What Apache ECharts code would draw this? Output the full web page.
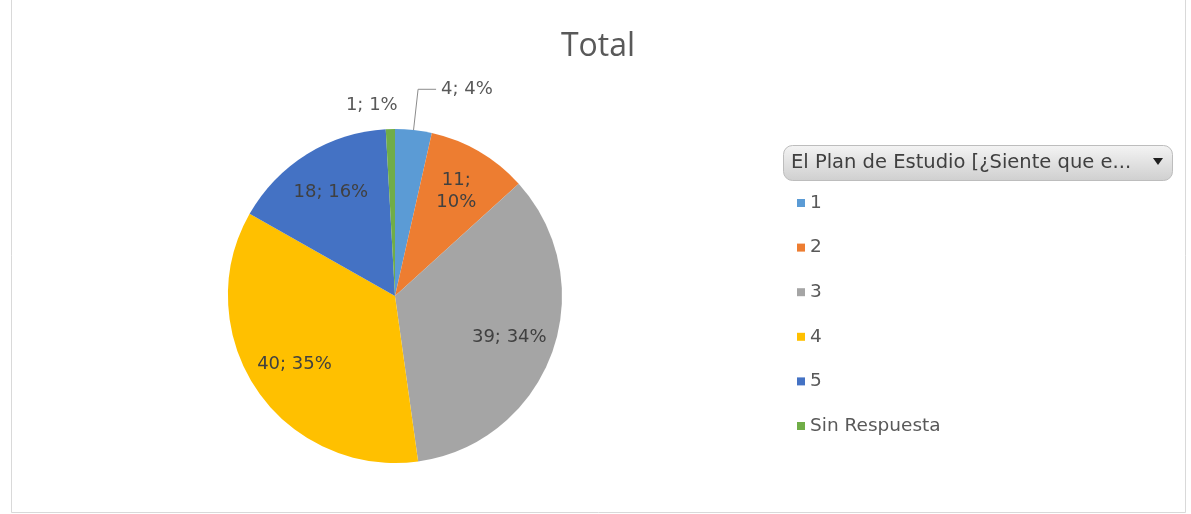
<!DOCTYPE html>
<html>
<head>
<meta charset="utf-8">
<script src="https://cdn.jsdelivr.net/npm/echarts@6/dist/echarts.min.js"></script>
<style>
html,body{margin:0;padding:0;background:#fff;}
#chart{width:1191px;height:514px;}
</style>
</head>
<body>
<div id="chart"></div>
<script>
const categories = ['1', '2', '3', '4', '5', 'Sin Respuesta'];
const values = [4, 11, 39, 40, 18, 1];
const colors = ['#5B9BD5', '#ED7D31', '#A5A5A5', '#FFC000', '#4472C4', '#70AD47'];
const titleText = 'Total';
const legendHeader = 'El Plan de Estudio [¿Siente que e...';
// which labels sit outside the pie
const outsideLabels = ['1', 'Sin Respuesta'];

const FONT = '"DejaVu Sans", sans-serif';
const TITLE_FONT = '"Open Sans", "Noto Sans", sans-serif';
const chart = echarts.init(document.getElementById('chart'), null, {renderer: 'canvas'});

const cx = 395, cy = 296, R = 167;

const mainData = categories.map((c, i) => {
  const item = {name: c, value: values[i], itemStyle: {color: colors[i]}};
  if (c === '1') {
    item.label = {show: true, position: 'outside', formatter: '{c}; {d}%'};
    item.labelLine = {show: true, length: 41, length2: 18, lineStyle: {color: '#8c8c8c', width: 1}};
  } else if (c === 'Sin Respuesta') {
    item.label = {show: true, position: 'outside', formatter: '{c}; {d}%', distanceToLabelLine: -8};
    item.labelLine = {show: false, length: 24, length2: 0};
  } else {
    item.label = {show: false};
  }
  return item;
});

const overlayData = categories.map((c, i) => {
  const item = {name: c, value: values[i], itemStyle: {color: 'rgba(0,0,0,0)'}};
  if (outsideLabels.includes(c)) {
    item.label = {show: false};
  } else if (c === '2') {
    item.label = {show: true, formatter: '{c};\n{d}%'};
  }
  return item;
});

const option = {
  animation: false,
  backgroundColor: '#fff',
  title: {
    text: titleText,
    left: 593,
    textAlign: 'center',
    top: 26,
    textStyle: {fontFamily: TITLE_FONT, fontSize: 32, fontWeight: 'normal', color: '#595959'}
  },
  legend: {
    orient: 'vertical',
    left: 792,
    top: 188,
    data: categories,
    icon: 'rect',
    itemWidth: 8,
    itemHeight: 8,
    itemGap: 24.6,
    selectedMode: false,
    textStyle: {fontFamily: FONT, fontSize: 18.5, color: '#595959', lineHeight: 20}
  },
  graphic: [
    {
      type: 'rect',
      shape: {x: 11.5, y: -5, width: 1174, height: 517.5},
      style: {fill: 'none', stroke: '#d9d9d9', lineWidth: 1},
      silent: true
    },
    {
      type: 'rect',
      shape: {x: 783.5, y: 145.5, width: 389, height: 35, r: 9},
      style: {
        fill: new echarts.graphic.LinearGradient(0, 0, 0, 1, [
          {offset: 0, color: '#f4f4f4'},
          {offset: 1, color: '#cfcfcf'}
        ]),
        stroke: '#bdbdbd', lineWidth: 1
      },
      silent: true
    },
    {
      type: 'text',
      style: {x: 791, y: 163, text: legendHeader, fontFamily: FONT, fontSize: 19.5, fill: '#404040', verticalAlign: 'middle'},
      silent: true
    },
    {
      type: 'polygon',
      shape: {points: [[1153, 158], [1163, 158], [1158, 165]]},
      style: {fill: '#202020'},
      silent: true
    }
  ],
  series: [
    {
      type: 'pie',
      center: [cx, cy],
      radius: [0, R],
      startAngle: 90,
      clockwise: true,
      percentPrecision: 0,
      avoidLabelOverlap: false,
      silent: true,
      label: {fontFamily: FONT, fontSize: 18, color: '#595959'},
      data: mainData
    },
    {
      type: 'pie',
      center: [cx, cy],
      radius: [0, R * 1.42],
      startAngle: 90,
      clockwise: true,
      percentPrecision: 0,
      silent: true,
      label: {show: true, position: 'inside', formatter: '{c}; {d}%', fontFamily: FONT, fontSize: 18, color: '#404040', lineHeight: 22},
      labelLine: {show: false},
      data: overlayData
    }
  ]
};
chart.setOption(option);
</script>
</body>
</html>
